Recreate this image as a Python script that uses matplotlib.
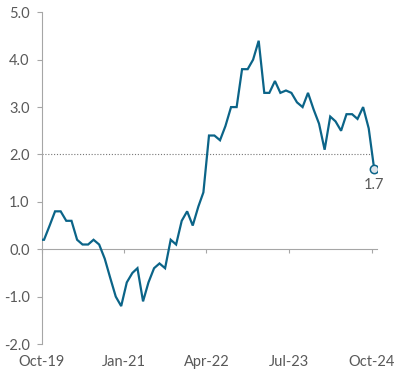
import matplotlib
matplotlib.use("Agg")
import matplotlib.pyplot as plt
import matplotlib.dates as mdates
import pandas as pd

# monthly readings, Sep-19 .. Oct-24 (plotted mid-month)
start_month = "2019-09-01"
end_month = "2024-10-01"
values = [0.2,
          0.2, 0.5, 0.8, 0.8, 0.6, 0.6, 0.2, 0.1, 0.1, 0.2, 0.1, -0.2,
          -0.6, -1.0, -1.2, -0.7, -0.5, -0.4, -1.1, -0.7, -0.4, -0.3, -0.4, 0.2,
          0.1, 0.6, 0.8, 0.5, 0.9, 1.2, 2.4, 2.4, 2.3, 2.6, 3.0, 3.0,
          3.8, 3.8, 4.0, 4.4, 3.3, 3.3, 3.55, 3.3, 3.35, 3.3, 3.1, 3.0,
          3.3, 2.95, 2.65, 2.1, 2.8, 2.7, 2.5, 2.85, 2.85, 2.75, 3.0, 2.55,
          1.7]
tick_dates = ["2019-10-01", "2021-01-01", "2022-04-01", "2023-07-01", "2024-10-01"]
y_ticks = [5.0, 4.0, 3.0, 2.0, 1.0, 0.0, -1.0, -2.0]
target = 2.0
last_label = "1.7"

dates = pd.date_range(start_month, end_month, freq="MS") + pd.Timedelta(days=14)
ticks = pd.to_datetime(tick_dates)

plt.rcParams['font.family'] = ['Lato', 'DejaVu Sans']
line_color = '#0b6488'
axis_color = '#a6a6a6'
text_color = '#595959'

fig = plt.figure(figsize=(4.03, 3.80), dpi=100)
ax = fig.add_axes([0.103, 0.0947, 0.833, 0.8729])

x0 = pd.Timestamp("2019-10-01")
x1 = pd.Timestamp("2024-11-01")
ax.set_xlim(x0, x1)
ax.set_ylim(-2, 5)

ax.plot(dates, values, color=line_color, lw=1.6, solid_joinstyle='miter', zorder=3)
ax.hlines(target, x0, dates[-1], colors='#777777', linestyles=(0, (1, 1.6)), lw=0.8, zorder=2)
ax.plot(dates[-1], values[-1], 'o', ms=6, mfc='#dde4ea', mec=line_color, mew=1.1, zorder=4)
ax.annotate(last_label, (dates[-1], values[-1]), xytext=(0, -7), textcoords='offset points',
            ha='center', va='top', fontsize=10.5, color=text_color)

for s in ['top', 'right']:
    ax.spines[s].set_visible(False)
ax.spines['left'].set_color(axis_color)
ax.spines['bottom'].set_color(axis_color)
ax.spines['bottom'].set_position(('data', 0))

ax.set_yticks(y_ticks)
ax.set_yticklabels(["%.1f" % v for v in y_ticks])
ax.set_xticks(ticks)
ax.xaxis.set_major_formatter(mdates.DateFormatter('%b-%y'))

# x labels sit at the bottom of the plot, tick marks stay on the zero line
fig.canvas.draw()
zero_px = ax.transData.transform((0, 0))[1]
bottom_px = ax.transData.transform((0, -2))[1]
pad_pt = (zero_px - bottom_px) * 72 / fig.dpi + 5

ax.tick_params(axis='y', colors=axis_color, labelcolor=text_color, labelsize=10.5,
               length=3.5, width=0.8, pad=5)
ax.tick_params(axis='x', colors=axis_color, labelcolor=text_color, labelsize=10.5,
               length=3, width=0.8, pad=pad_pt)

fig.savefig('out.png', dpi=100)
